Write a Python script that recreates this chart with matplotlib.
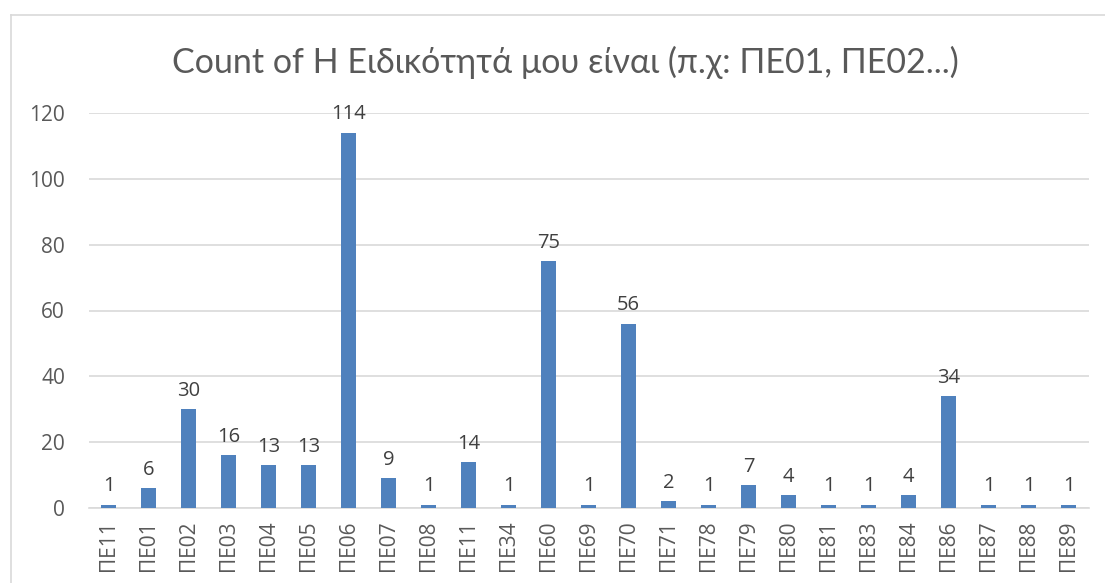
import matplotlib
matplotlib.use("Agg")
import matplotlib.pyplot as plt
from matplotlib.lines import Line2D

categories = ["ΠΕ11", "ΠΕ01", "ΠΕ02", "ΠΕ03", "ΠΕ04", "ΠΕ05", "ΠΕ06", "ΠΕ07", "ΠΕ08",
              "ΠΕ11", "ΠΕ34", "ΠΕ60", "ΠΕ69", "ΠΕ70", "ΠΕ71", "ΠΕ78", "ΠΕ79", "ΠΕ80",
              "ΠΕ81", "ΠΕ83", "ΠΕ84", "ΠΕ86", "ΠΕ87", "ΠΕ88", "ΠΕ89"]
counts = [1, 6, 30, 16, 13, 13, 114, 9, 1, 14, 1, 75, 1, 56, 2, 1, 7, 4, 1, 1, 4, 34, 1, 1, 1]
yticks = [0, 20, 40, 60, 80, 100, 120]
title = "Count of Η Ειδικότητά μου είναι (π.χ: ΠΕ01, ΠΕ02...)"

W, H = 1105, 583
fig = plt.figure(figsize=(W / 100, H / 100), dpi=100)
plt.rcParams['font.family'] = ['Open Sans', 'DejaVu Sans']

left, right = 88.5, 1088.5
bottom, top = 508, 113
ax = fig.add_axes([left / W, 1 - bottom / H, (right - left) / W, (bottom - top) / H])

x = list(range(len(categories)))
ax.bar(x, counts, width=0.36, color="#4f81bd", zorder=3)
ax.set_xlim(-0.5, len(categories) - 0.5)
ax.set_ylim(0, 120)
ax.set_yticks(yticks)
ax.set_yticklabels([str(t) for t in yticks], fontsize=15, color="#595959")
ax.set_xticks(x)
ax.set_xticklabels(categories, rotation=90, fontsize=15, color="#595959")
ax.tick_params(axis='both', length=0)
ax.tick_params(axis='y', pad=17)
ax.tick_params(axis='x', pad=9)
ax.grid(axis='y', color="#d9d9d9", linewidth=1.2, zorder=0)
for s in ["top", "right", "left"]:
    ax.spines[s].set_visible(False)
ax.spines["bottom"].set_color("#d9d9d9")
ax.spines["bottom"].set_linewidth(1.2)
ax.set_facecolor("none")

for xi, v in zip(x, counts):
    ax.annotate(str(v), (xi, v), xytext=(0, 6), textcoords="offset points",
                ha="center", va="bottom", fontsize=14.5, color="#404040")

fig.text(565 / W, 1 - 62 / H, title, ha="center", va="center", fontsize=24.5,
         color="#595959", family=['Lato', 'DejaVu Sans'])

# chart border (partially cropped)
fig.add_artist(Line2D([11 / W, 11 / W], [0, 1 - 15 / H], transform=fig.transFigure, color="#d9d9d9", lw=1.2))
fig.add_artist(Line2D([11 / W, 1], [1 - 15 / H, 1 - 15 / H], transform=fig.transFigure, color="#d9d9d9", lw=1.2))

fig.savefig("out.png", dpi=100)
